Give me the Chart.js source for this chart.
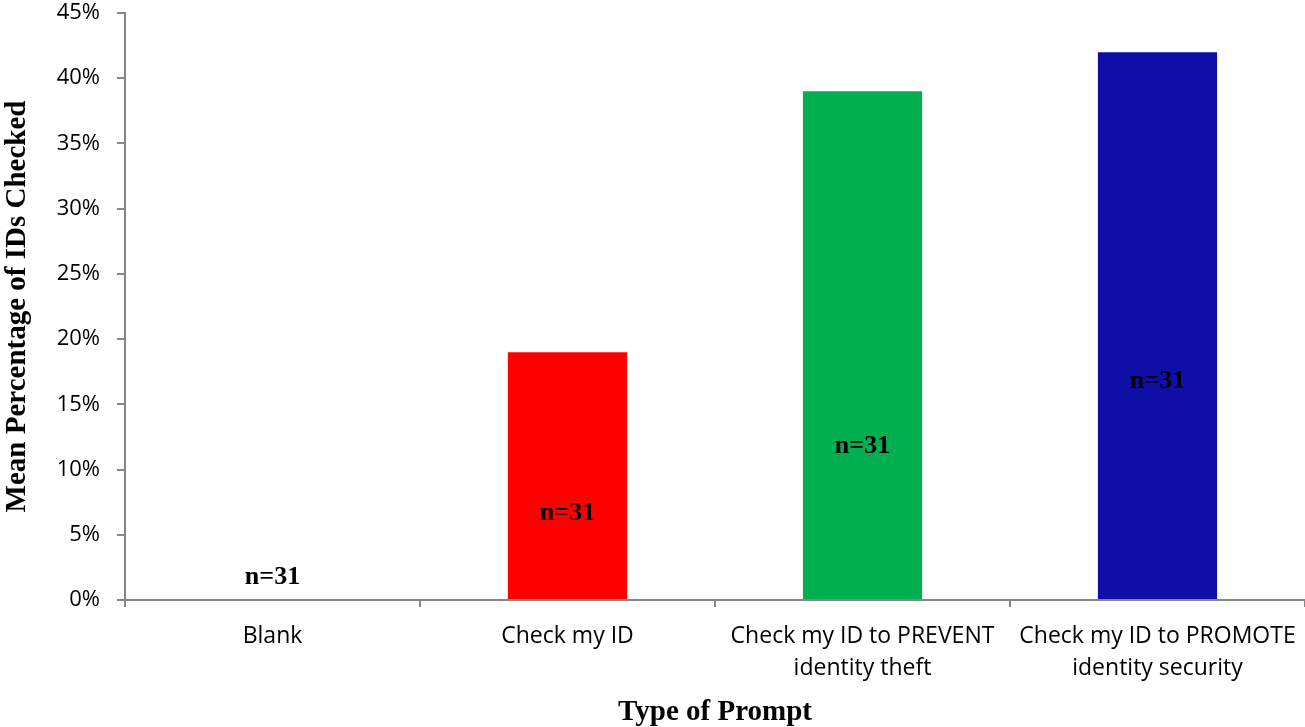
<!DOCTYPE html>
<html>
<head>
<meta charset="utf-8">
<script src="https://cdn.jsdelivr.net/npm/chart.js@4/dist/chart.umd.min.js"></script>
<style>
  html, body { margin: 0; padding: 0; background: #ffffff; }
  #wrap { width: 1305px; height: 727px; position: relative; }
</style>
</head>
<body>
<div id="wrap"><canvas id="c" width="1305" height="727"></canvas></div>
<script>
// Prompt types shown under each bar (two-line labels where they wrap)
const categories = [
  ["Blank"],
  ["Check my ID"],
  ["Check my ID to PREVENT", "identity theft"],
  ["Check my ID to PROMOTE", "identity security"]
];
// Mean share of IDs checked per prompt type
const meanChecked = [0.0, 0.19, 0.39, 0.42];
// Group sizes
const sampleSizes = [31, 31, 31, 31];
// Bar fills
const barColors = ["#FF0000", "#FF0000", "#00B050", "#0F0FA8"];

const axisGray = "#868686";
const sansFamily = "'Open Sans', 'Noto Sans', sans-serif";
const serifBold = { family: "'Liberation Serif', 'DejaVu Serif', serif", size: 29, weight: "bold" };

// Writes "n=.." inside/above each bar at a chosen level on the value axis
const sampleLabels = {
  id: "sampleLabels",
  afterDatasetsDraw(chart, args, opts) {
    const ctx = chart.ctx;
    const meta = chart.getDatasetMeta(0);
    const y = chart.scales.y;
    ctx.save();
    ctx.font = "bold 26px 'Liberation Serif', 'DejaVu Serif', serif";
    ctx.fillStyle = "#000";
    ctx.textAlign = "center";
    ctx.textBaseline = "middle";
    meta.data.forEach((bar, i) => {
      ctx.fillText("n=" + sampleSizes[i], bar.x, y.getPixelForValue(opts.levels[i]));
    });
    ctx.restore();
  }
};

new Chart(document.getElementById("c"), {
  type: "bar",
  data: {
    labels: categories,
    datasets: [{
      data: meanChecked,
      backgroundColor: barColors,
      borderWidth: 0,
      categoryPercentage: 1.0,
      barPercentage: 0.404
    }]
  },
  options: {
    responsive: false,
    animation: false,
    events: [],
    layout: { padding: { top: 13, right: 0, left: 0, bottom: 0 } },
    plugins: {
      legend: { display: false },
      tooltip: { enabled: false },
      sampleLabels: { levels: [0.0176, 0.0666, 0.118, 0.168] }
    },
    scales: {
      x: {
        grid: {
          offset: true,
          drawOnChartArea: false,
          drawTicks: true,
          tickLength: 7,
          color: axisGray,
          lineWidth: 2
        },
        border: { display: true, color: axisGray, width: 2 },
        ticks: {
          color: "#000",
          font: { family: sansFamily, size: 23, lineHeight: 1.39 },
          padding: 13,
          maxRotation: 0,
          autoSkip: false
        },
        title: {
          display: true,
          text: "Type of Prompt",
          color: "#000",
          font: serifBold,
          padding: { top: 10, bottom: -3 }
        },
        afterFit(scale) {
          scale.height = 127;
          scale.paddingLeft = 0;
          scale.paddingRight = 0;
        }
      },
      y: {
        min: 0,
        max: 0.45,
        grid: {
          drawOnChartArea: false,
          drawTicks: true,
          tickLength: 8,
          color: axisGray,
          lineWidth: 2
        },
        border: { display: true, color: axisGray, width: 2 },
        ticks: {
          stepSize: 0.05,
          color: "#000",
          font: { family: sansFamily, size: 22 },
          padding: 17,
          callback: v => Math.round(v * 100) + "%"
        },
        title: {
          display: true,
          text: "Mean Percentage of IDs Checked",
          color: "#000",
          font: serifBold,
          padding: { top: 0, bottom: 0 }
        },
        afterFit(scale) {
          scale.width = 125;
          scale.paddingTop = 0;
          scale.paddingBottom = 0;
        }
      }
    }
  },
  plugins: [sampleLabels]
});
</script>
</body>
</html>
